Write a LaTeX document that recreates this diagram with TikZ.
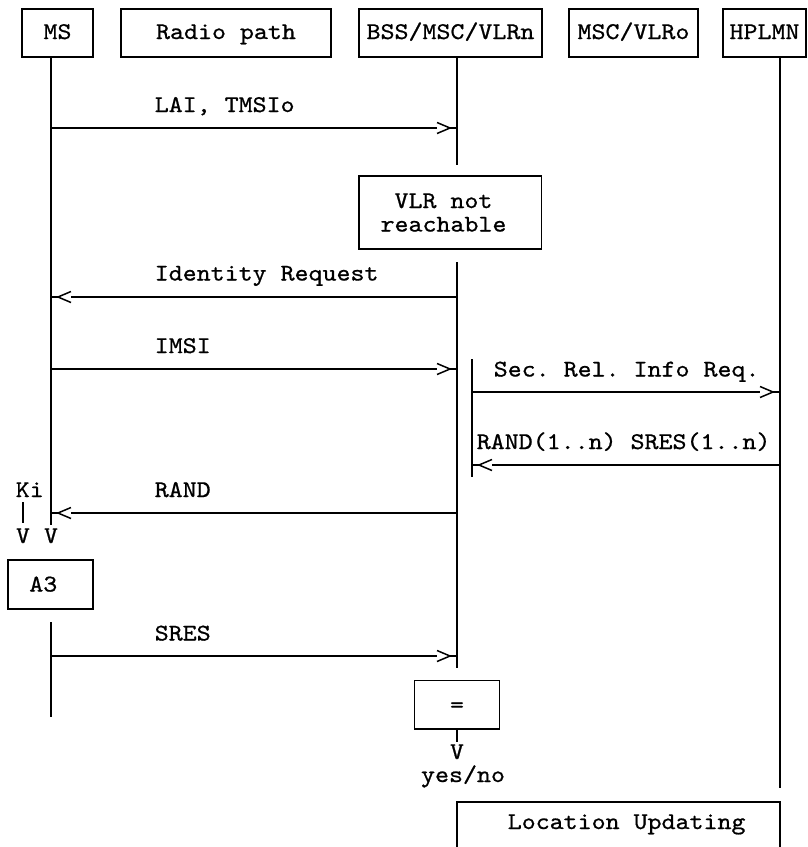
\documentclass[tikz,border=0pt]{standalone}
\usepackage{fontspec}
\setmonofont[FakeStretch=1.11,FakeBold=0.8]{lmmono10-regular.otf}
\usetikzlibrary{calc}
\newcommand\diafont{\ttfamily\fontsize{24pt}{23.5pt}\selectfont}
% message to the right: line, open chevron, short stub to the lifeline
\newcommand\msgR[2]{%
  \draw (#1) -- ($(#2)+(-20,0)$);
  \draw ($(#2)+(-20,-5.5)$) -- ($(#2)+(-7,0)$) -- ($(#2)+(-20,5.5)$);
  \draw ($(#2)+(-7,0)$) -- (#2);}
% message to the left
\newcommand\msgL[2]{%
  \draw (#1) -- ($(#2)+(20,0)$);
  \draw ($(#2)+(20,-5.5)$) -- ($(#2)+(7,0)$) -- ($(#2)+(20,5.5)$);
  \draw ($(#2)+(7,0)$) -- (#2);}
\begin{document}
\begin{tikzpicture}[x=1pt,y=-1pt,line width=1.5pt,
  every node/.style={font=\diafont, inner sep=0pt},
  box/.style={draw, rectangle, line width=1.5pt, text height=15pt, text depth=0pt},
  head/.style={box, minimum height=48, text depth=3pt},
  lbl/.style={anchor=base west},
  ctr/.style={anchor=base},
]
\clip (0,0) rectangle (807,847);
\fill[white] (0,0) rectangle (807,847);

% header boxes
\node[head, minimum width=71]  (ms)    at (57.5,33)  {MS};
\node[head, minimum width=210] (radio) at (226,33)   {Radio path};
\node[head, minimum width=183] (bss)   at (450.5,33) {BSS/MSC/VLRn};
\node[head, minimum width=129] (msco)  at (633.5,33) {MSC/VLRo};
\node[head, minimum width=83]  (hplmn) at (764.5,33) {HPLMN};

% lifeline points
\coordinate (msTop)   at (51,57);
\coordinate (msEnd1)  at (51,525);
\coordinate (msTop2)  at (51,622);
\coordinate (msEnd2)  at (51,717);
\coordinate (bssTop)  at (457,57);
\coordinate (bssEnd1) at (457,165);
\coordinate (bssTop2) at (457,262);
\coordinate (bssEnd2) at (457,668);
\coordinate (hpTop)   at (780,57);
\coordinate (hpEnd)   at (780,788);
\coordinate (barTop)  at (472,359);
\coordinate (barEnd)  at (472,477);

\draw (msTop) -- (msEnd1);
\draw (msTop2) -- (msEnd2);
\draw (bssTop) -- (bssEnd1);
\draw (bssTop2) -- (bssEnd2);
\draw (hpTop) -- (hpEnd);
\draw (barTop) -- (barEnd);

% VLR not reachable
\node[box, minimum width=182.5, minimum height=73] (vlr) at (450.3,212.7) {};
\node[align=center] (vlrtxt) at (443.5,212.5) {VLR not\\reachable};

% message end points
\coordinate (m1a) at (51,128);  \coordinate (m1b) at (457,128);
\coordinate (m2a) at (457,297); \coordinate (m2b) at (51,297);
\coordinate (m3a) at (51,369);  \coordinate (m3b) at (457,369);
\coordinate (m4a) at (472,392); \coordinate (m4b) at (780,392);
\coordinate (m5a) at (780,465); \coordinate (m5b) at (472,465);
\coordinate (m6a) at (457,513); \coordinate (m6b) at (51,513);
\coordinate (m7a) at (51,656);  \coordinate (m7b) at (457,656);

\msgR{m1a}{m1b}
\msgL{m2a}{m2b}
\msgR{m3a}{m3b}
\msgR{m4a}{m4b}
\msgL{m5a}{m5b}
\msgL{m6a}{m6b}
\msgR{m7a}{m7b}

\node[lbl] (t1) at (154,112)   {LAI, TMSIo};
\node[lbl] (t2) at (154,280.5) {Identity Request};
\node[lbl] (t3) at (154,353)   {IMSI};
\node[lbl] (t4) at (493,376.5) {Sec. Rel. Info Req.};
\node[lbl] (t5) at (476,449)   {RAND(1..n) SRES(1..n)};
\node[lbl] (t6) at (154,497)   {RAND};
\node[lbl] (t7) at (154,640.5) {SRES};

% Ki and A3
\node[lbl] (ki) at (15,497) {Ki};
\coordinate (kiA) at (23,502);
\coordinate (kiB) at (23,523);
\draw (kiA) -- (kiB);
\node[ctr] (v1) at (23,543) {V};
\node[ctr] (v2) at (51,543) {V};
\node[box, minimum width=85, minimum height=49] (a3) at (50.5,584.5) {};
\node[ctr] (a3txt) at (43.3,591.5) {A3};

% comparison
\node[box, minimum width=85, minimum height=48.5] (eq) at (457,704.8) {=};
\coordinate (eqEnd) at (457,742);
\draw (eq.south) -- (eqEnd);
\node[ctr] (v3) at (457,759) {V};
\node[ctr] (yn) at (463,782) {yes/no};

% location updating
\node[box, minimum width=323, minimum height=90, anchor=north] (loc) at (618.5,801) {};
\node[lbl] (loctxt) at (507,829) {Location Updating};
\end{tikzpicture}
\end{document}
